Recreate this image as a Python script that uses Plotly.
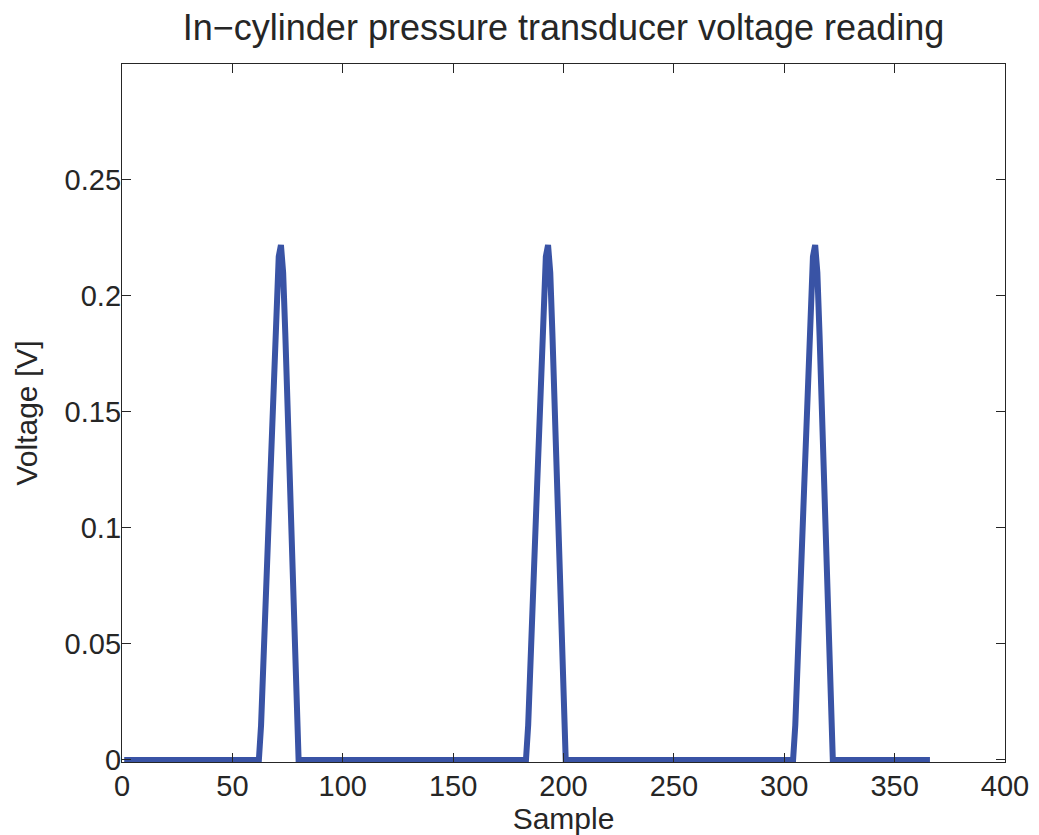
import plotly.graph_objects as go

# ---- data ----
n_samples = 366
peak_starts = [62, 183, 304]          # first sample index of each pressure pulse
peak_shape = [0.0, 0.015, 0.045, 0.07, 0.093, 0.117, 0.142, 0.17, 0.2, 0.217,
              0.222, 0.21, 0.183, 0.152, 0.115, 0.078, 0.044, 0.015, 0.0]

x_ticks = [0, 50, 100, 150, 200, 250, 300, 350, 400]
y_ticks = [0, 0.05, 0.1, 0.15, 0.2, 0.25]
y_tick_text = ["0", "0.05", "0.1", "0.15", "0.2", "0.25"]

title_text = "In\u2212cylinder pressure transducer voltage reading"
x_title = "Sample"
y_title = "Voltage [V]"

# ---- build series ----
samples = list(range(1, n_samples + 1))
voltage = [0.0] * n_samples
for s in peak_starts:
    for k, v in enumerate(peak_shape):
        idx = s + k - 1
        if 0 <= idx < n_samples:
            voltage[idx] = v

FONT = "Liberation Sans, Arial, Helvetica, sans-serif"
AX = "#262626"

# page body has an 8px default margin: compensate so the plot lands in place
OFF = 8
W, H = 1039 - OFF, 835 - OFF

fig = go.Figure()
fig.add_trace(go.Scatter(
    x=samples, y=voltage, mode="lines",
    line=dict(color="#3953A5", width=6),
    showlegend=False,
))

axis_common = dict(
    showline=True, linecolor=AX, linewidth=1.3, mirror="allticks",
    ticks="inside", ticklen=9, tickwidth=1, tickcolor=AX,
    showgrid=False, zeroline=False, automargin=False,
    tickfont=dict(family=FONT, size=29, color=AX),
)

fig.update_layout(
    template="none",
    width=W, height=H,
    margin=dict(l=122 - OFF, r=34, t=64 - OFF, b=73, pad=0),
    paper_bgcolor="white", plot_bgcolor="white",
    title=dict(text=title_text, x=0.5, xanchor="center", xref="paper",
               y=1 - (27 - OFF) / H, yanchor="middle", yref="container",
               font=dict(family=FONT, size=36, color=AX)),
    xaxis=dict(range=[0, 400], tickvals=x_ticks, ticklabelstandoff=-2,
               title=dict(text=x_title, standoff=5,
                          font=dict(family=FONT, size=30, color=AX)),
               **axis_common),
    yaxis=dict(range=[-0.0009, 0.3], tickvals=y_ticks, ticktext=y_tick_text,
               ticklabelstandoff=-6,
               title=dict(text=y_title, standoff=18,
                          font=dict(family=FONT, size=30, color=AX)),
               **axis_common),
)

fig.write_html("out.html")
